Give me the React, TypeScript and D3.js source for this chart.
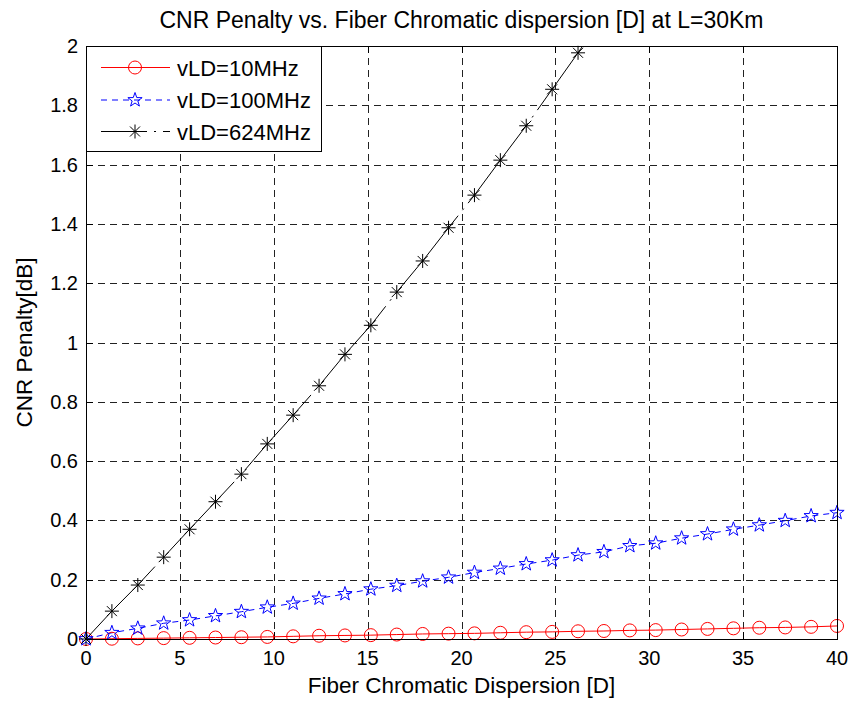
import React from "react";
import * as d3 from "d3";

const dispersion = [0, 1.379, 2.759, 4.138, 5.517, 6.897, 8.276, 9.655, 11.034, 12.414, 13.793, 15.172, 16.552, 17.931, 19.31, 20.69, 22.069, 23.448, 24.828, 26.207, 27.586, 28.966, 30.345, 31.724, 33.103, 34.483, 35.862, 37.241, 38.621, 40];
const penalty10 = [0, 0.001, 0.002, 0.003, 0.004, 0.005, 0.006, 0.007, 0.009, 0.011, 0.012, 0.013, 0.015, 0.017, 0.018, 0.019, 0.021, 0.023, 0.024, 0.026, 0.027, 0.029, 0.030, 0.032, 0.034, 0.036, 0.038, 0.039, 0.041, 0.044];
const penalty100 = [0, 0.021, 0.036, 0.053, 0.064, 0.078, 0.092, 0.107, 0.120, 0.137, 0.152, 0.168, 0.180, 0.195, 0.208, 0.224, 0.238, 0.253, 0.266, 0.283, 0.294, 0.314, 0.323, 0.340, 0.354, 0.370, 0.384, 0.399, 0.415, 0.426];
const penalty624 = [0, 0.094, 0.182, 0.276, 0.370, 0.463, 0.556, 0.658, 0.755, 0.854, 0.960, 1.058, 1.170, 1.275, 1.387, 1.497, 1.615, 1.731, 1.854, 1.977, 2.105];
const xTicks = [0, 5, 10, 15, 20, 25, 30, 35, 40];
const yTicks = [0, 0.2, 0.4, 0.6, 0.8, 1, 1.2, 1.4, 1.6, 1.8, 2];
const legendLabels = ["vLD=10MHz", "vLD=100MHz", "vLD=624MHz"];
const title = "CNR Penalty vs. Fiber Chromatic dispersion [D] at L=30Km";
const xLabel = "Fiber Chromatic Dispersion [D]";
const yLabel = "CNR Penalty[dB]";

const W = 852, H = 703;
const L = 86, R = 837, T = 46, B = 639;
const FONT = "'Liberation Sans', Arial, sans-serif";

function starPath(R0: number) {
  const r = R0 * 0.4;
  const pts: string[] = [];
  for (let k = 0; k < 10; k++) {
    const a = -Math.PI / 2 + (k * Math.PI) / 5;
    const rr = k % 2 === 0 ? R0 : r;
    pts.push(`${(rr * Math.cos(a)).toFixed(2)},${(rr * Math.sin(a)).toFixed(2)}`);
  }
  return "M" + pts.join("L") + "Z";
}

const Asterisk = ({ cx, cy }: { cx: number; cy: number }) => (
  <g transform={`translate(${cx},${cy})`} stroke="#000" strokeWidth={1} fill="none">
    <line x1={0} y1={-7} x2={0} y2={7} />
    <line x1={-7} y1={0} x2={7} y2={0} />
    <line x1={-5} y1={-5} x2={5} y2={5} />
    <line x1={-5} y1={5} x2={5} y2={-5} />
  </g>
);

export default function App() {
  const x = d3.scaleLinear().domain([0, 40]).range([L, R]);
  const y = d3.scaleLinear().domain([0, 2]).range([B, T]);
  const line = (vals: number[]) =>
    d3.line<number>().x((_, i) => x(dispersion[i])).y((v) => y(v))(vals) || "";
  const star = starPath(7.5);

  const legendRows = [67.5, 100, 131.5];
  const lx1 = 101, lx2 = 170, lmx = 135;

  return (
    <svg width={W} height={H} style={{ position: "absolute", left: 0, top: 0, background: "#fff" }}
      fontFamily={FONT}>
      <rect x={0} y={0} width={W} height={H} fill="#fff" />
      <defs>
        <clipPath id="plotclip">
          <rect x={L} y={T} width={R - L} height={B - T} />
        </clipPath>
      </defs>
      {/* grid */}
      <g stroke="#222" strokeWidth={1} strokeDasharray="7,5">
        {xTicks.filter((t) => t > 0 && t < 40).map((t) => (
          <line key={"gx" + t} x1={Math.round(x(t)) + 0.5} x2={Math.round(x(t)) + 0.5} y1={T} y2={B} />
        ))}
        {yTicks.filter((t) => t > 0 && t < 2).map((t) => (
          <line key={"gy" + t} y1={Math.round(y(t)) + 0.5} y2={Math.round(y(t)) + 0.5} x1={L} x2={R} />
        ))}
      </g>
      {/* ticks */}
      <g stroke="#000" strokeWidth={1}>
        {xTicks.map((t) => (
          <g key={"tx" + t}>
            <line x1={Math.round(x(t)) + 0.5} x2={Math.round(x(t)) + 0.5} y1={B} y2={B - 7} />
            <line x1={Math.round(x(t)) + 0.5} x2={Math.round(x(t)) + 0.5} y1={T} y2={T + 7} />
          </g>
        ))}
        {yTicks.map((t) => (
          <g key={"ty" + t}>
            <line y1={Math.round(y(t)) + 0.5} y2={Math.round(y(t)) + 0.5} x1={L} x2={L + 7} />
            <line y1={Math.round(y(t)) + 0.5} y2={Math.round(y(t)) + 0.5} x1={R} x2={R - 7} />
          </g>
        ))}
      </g>
      {/* series lines */}
      <g clipPath="url(#plotclip)" fill="none" strokeWidth={1}>
        <path d={line(penalty10)} stroke="#ff0000" />
        <path d={line(penalty100)} stroke="#0000ff" strokeDasharray="6,5" />
        <path d={line(penalty624)} stroke="#000" strokeDasharray="100,7,2,7" />
      </g>
      {/* markers */}
      <g>
        {penalty10.map((v, i) => (
          <circle key={"c" + i} cx={x(dispersion[i])} cy={y(v)} r={6.5} fill="none" stroke="#ff0000" strokeWidth={1} />
        ))}
        {penalty100.map((v, i) => (
          <path key={"s" + i} d={star} transform={`translate(${x(dispersion[i])},${y(v)})`} fill="none" stroke="#0000ff" strokeWidth={1} />
        ))}
        {penalty624.map((v, i) => (v <= 2 ? <Asterisk key={"a" + i} cx={x(dispersion[i])} cy={y(v)} /> : null))}
      </g>
      {/* axes box */}
      <rect x={L + 0.5} y={T + 0.5} width={R - L} height={B - T} fill="none" stroke="#000" strokeWidth={1} />
      {/* tick labels */}
      <g fontSize={20} fill="#000">
        {xTicks.map((t) => (
          <text key={"lx" + t} x={x(t)} y={665} textAnchor="middle">{t}</text>
        ))}
        {yTicks.map((t) => (
          <text key={"ly" + t} x={78} y={y(t) + 7} textAnchor="end">{t}</text>
        ))}
      </g>
      {/* axis labels */}
      <text x={(L + R) / 2} y={693} textAnchor="middle" fontSize={22.5}>{xLabel}</text>
      <text transform={`translate(32,${(T + B) / 2}) rotate(-90)`} textAnchor="middle" fontSize={22.5}>{yLabel}</text>
      <text x={(L + R) / 2} y={28} textAnchor="middle" fontSize={23}>{title}</text>
      {/* legend */}
      <g>
        <rect x={86.5} y={46.5} width={235} height={105} fill="#fff" stroke="#000" strokeWidth={1} />
        <line x1={lx1} x2={lx2} y1={legendRows[0]} y2={legendRows[0]} stroke="#ff0000" strokeWidth={1} />
        <circle cx={lmx} cy={legendRows[0]} r={6.5} fill="none" stroke="#ff0000" />
        <line x1={lx1} x2={lx2} y1={legendRows[1]} y2={legendRows[1]} stroke="#0000ff" strokeWidth={1} strokeDasharray="6,5" />
        <path d={star} transform={`translate(${lmx},${legendRows[1]})`} fill="none" stroke="#0000ff" />
        <line x1={lx1} x2={lx2} y1={legendRows[2]} y2={legendRows[2]} stroke="#000" strokeWidth={1} strokeDasharray="46,7,2,7" />
        <Asterisk cx={lmx} cy={legendRows[2]} />
        {legendLabels.map((s, i) => (
          <text key={s} x={177} y={legendRows[i] + 8} fontSize={22}>{s}</text>
        ))}
      </g>
    </svg>
  );
}
